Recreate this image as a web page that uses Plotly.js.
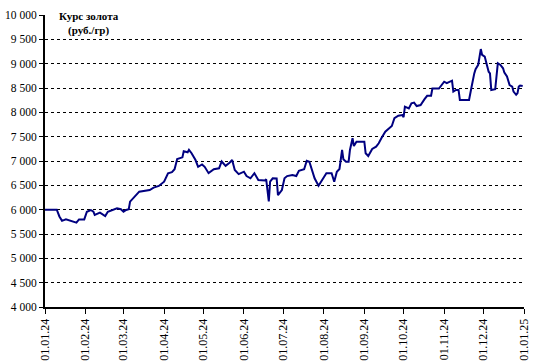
<!DOCTYPE html>
<html>
<head>
<meta charset="utf-8">
<script src="https://cdn.plot.ly/plotly-3.0.1.min.js"></script>
<style>html,body{margin:0;padding:0;background:#fff}#chart{width:540px;height:362px}</style>
</head>
<body>
<div id="chart"></div>
<script>
var dates = [
'2024-01-01','2024-01-10','2024-01-12','2024-01-14','2024-01-17','2024-01-20','2024-01-23','2024-01-25','2024-01-27','2024-01-31',
'2024-02-02','2024-02-05','2024-02-07','2024-02-08','2024-02-12','2024-02-16','2024-02-18','2024-02-21','2024-02-25','2024-02-28',
'2024-03-01','2024-03-03','2024-03-05','2024-03-06','2024-03-09','2024-03-13','2024-03-21','2024-03-24','2024-03-28','2024-04-01',
'2024-04-04','2024-04-07','2024-04-09','2024-04-11','2024-04-15','2024-04-16','2024-04-19','2024-04-20','2024-04-22','2024-04-25',
'2024-04-27','2024-04-30','2024-05-02','2024-05-05','2024-05-09','2024-05-13','2024-05-15','2024-05-18','2024-05-21','2024-05-23',
'2024-05-25','2024-05-28','2024-06-01','2024-06-03','2024-06-06','2024-06-09','2024-06-12','2024-06-17','2024-06-18','2024-06-20',
'2024-06-21','2024-06-23','2024-06-26','2024-06-27','2024-06-30','2024-07-02','2024-07-04','2024-07-08','2024-07-11','2024-07-13',
'2024-07-17','2024-07-19','2024-07-21','2024-07-23','2024-07-25','2024-07-28','2024-07-30','2024-08-01','2024-08-03','2024-08-07',
'2024-08-09','2024-08-11','2024-08-13','2024-08-15','2024-08-16','2024-08-18','2024-08-20','2024-08-21','2024-08-23','2024-08-24',
'2024-08-26','2024-09-01','2024-09-02','2024-09-04','2024-09-07','2024-09-10','2024-09-12','2024-09-14','2024-09-17','2024-09-20',
'2024-09-22','2024-09-24','2024-09-27','2024-09-30','2024-10-01','2024-10-02','2024-10-05','2024-10-07','2024-10-09','2024-10-11',
'2024-10-14','2024-10-17','2024-10-19','2024-10-22','2024-10-23','2024-10-28','2024-10-30','2024-11-01','2024-11-03','2024-11-05',
'2024-11-07','2024-11-08','2024-11-10','2024-11-12','2024-11-13','2024-11-20','2024-11-21','2024-11-22','2024-11-24','2024-11-25',
'2024-11-27','2024-11-28','2024-11-29','2024-11-30','2024-12-02','2024-12-03','2024-12-05','2024-12-06','2024-12-07','2024-12-10',
'2024-12-11','2024-12-12','2024-12-14','2024-12-16','2024-12-17','2024-12-19','2024-12-21','2024-12-23','2024-12-24','2024-12-26',
'2024-12-27','2024-12-28','2024-12-29','2024-12-31'
];
var prices = [
6000,6000,5860,5770,5800,5773,5753,5732,5800,5800,
5958,5993,5958,5890,5938,5870,5958,5993,6028,6008,
5958,5993,6008,6164,6254,6370,6404,6452,6487,6575,
6748,6770,6830,7040,7075,7200,7180,7230,7160,7020,
6880,6930,6880,6750,6830,6850,6990,6900,6965,7020,
6815,6730,6780,6690,6645,6750,6610,6600,6625,6170,
6575,6645,6640,6300,6404,6645,6690,6713,6692,6800,
6830,7006,6986,6815,6645,6493,6575,6645,6748,6748,
6575,6780,6836,7226,7035,6986,6986,7226,7467,7309,
7397,7397,7159,7103,7247,7294,7364,7467,7602,7672,
7720,7878,7930,7945,7900,8116,8080,8185,8200,8130,
8150,8270,8340,8340,8490,8490,8560,8630,8600,8630,
8650,8425,8460,8460,8255,8255,8445,8530,8800,8885,
8975,9145,9300,9180,9145,9040,8835,8800,8460,8475,
8735,9010,8975,8905,8815,8735,8560,8530,8425,8360,
8390,8530,8550,8540
];
var xTickVals = ['2024-01-01','2024-02-01','2024-03-01','2024-04-01','2024-05-01','2024-06-01','2024-07-01','2024-08-01','2024-09-01','2024-10-01','2024-11-01','2024-12-01','2025-01-01'];
var xTickLabels = ['01.01.24','01.02.24','01.03.24','01.04.24','01.05.24','01.06.24','01.07.24','01.08.24','01.09.24','01.10.24','01.11.24','01.12.24','01.01.25'];
var yTickVals = [4000,4500,5000,5500,6000,6500,7000,7500,8000,8500,9000,9500,10000];
var yTickLabels = ['4 000','4 500','5 000','5 500','6 000','6 500','7 000','7 500','8 000','8 500','9 000','9 500','10 000'];
var titleLines = ['Курс золота','(руб./гр)'];

var font = 'Liberation Serif, Times New Roman, serif';
var trace = {
  x: dates, y: prices, type: 'scatter', mode: 'lines',
  line: {color: '#000080', width: 2}, hoverinfo: 'skip'
};
var layout = {
  width: 540, height: 362,
  margin: {l: 45, r: 16, t: 15, b: 55, pad: 0},
  paper_bgcolor: '#fff', plot_bgcolor: '#fff',
  showlegend: false,
  font: {family: font, color: '#000', size: 12},
  xaxis: {
    type: 'date', range: ['2024-01-01', '2025-01-01'],
    tickvals: xTickVals, ticktext: xTickLabels, tickangle: -90,
    tickfont: {family: font, size: 12, color: '#000'},
    showgrid: false, zeroline: false,
    showline: true, linecolor: '#000', linewidth: 2,
    ticks: 'outside', ticklen: 5, tickwidth: 1, tickcolor: '#000'
  },
  yaxis: {
    range: [4000, 10000],
    tickvals: yTickVals, ticktext: yTickLabels,
    tickfont: {family: font, size: 11.5, color: '#000'},
    showgrid: true, gridcolor: '#000', gridwidth: 1, griddash: '3px,3px',
    zeroline: false,
    showline: true, linecolor: '#000', linewidth: 2,
    ticks: 'outside', ticklen: 4, tickwidth: 1, tickcolor: '#000'
  },
  annotations: [{
    xref: 'paper', yref: 'paper', x: 0.091, y: 0.97,
    xanchor: 'center', yanchor: 'middle', align: 'center',
    text: '<b>' + titleLines[0] + '</b><br><b>' + titleLines[1] + '</b>',
    showarrow: false, bgcolor: '#fff', borderpad: 0,
    font: {family: font, size: 11, color: '#000'}
  }]
};
Plotly.newPlot('chart', [trace], layout, {staticPlot: true, displayModeBar: false});
</script>
</body>
</html>
